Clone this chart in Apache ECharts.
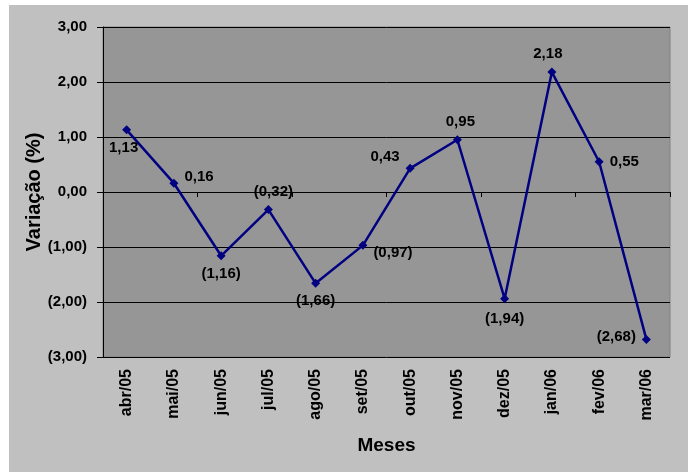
<!DOCTYPE html>
<html><head><meta charset="utf-8">
<script src="https://cdn.jsdelivr.net/npm/echarts@6/dist/echarts.min.js"></script>
<style>
html,body{margin:0;padding:0;background:#fff;}
#bg{position:absolute;left:9px;top:5px;width:679px;height:467px;background:#c0c0c0;}
#main{position:absolute;left:0;top:0;width:688px;height:472px;}
</style></head>
<body><div id="bg"></div><div id="main"></div>
<script>
const categories = ['abr/05','mai/05','jun/05','jul/05','ago/05','set/05','out/05','nov/05','dez/05','jan/06','fev/06','mar/06'];
const values = [1.13, 0.16, -1.16, -0.32, -1.66, -0.97, 0.43, 0.95, -1.94, 2.18, 0.55, -2.68];
const labelPositions = ['bottom','right','bottom','top','bottom','right','left','top','bottom','top','right','left'];
const labelOffsets = [[-3,0],[0,-6],[0,0],[5,0],[0,0],[0,8],[0,-11],[3,0],[0,2],[-4,0],[0,0],[0,-3]];

function fmt(v){
  const s = Math.abs(v).toFixed(2).replace('.', ',');
  return v < 0 ? '(' + s + ')' : s;
}
const font = 'Liberation Sans, Arial, sans-serif';
const chart = echarts.init(document.getElementById('main'));
chart.setOption({
  animation:false,
  backgroundColor:'transparent',
  textStyle:{fontFamily:font},
  grid:{left:103, top:27, right:18, bottom:115, show:true, backgroundColor:'#969696', borderColor:'#808080', borderWidth:1},
  xAxis:[{
    type:'category', data:categories, position:'bottom', boundaryGap:true,
    axisLine:{show:false, onZero:false}, axisTick:{show:false},
    axisLabel:{rotate:90, color:'#000', fontWeight:'bold', fontSize:16, fontFamily:font, margin:12},
    name:'Meses', nameLocation:'middle', nameGap:79, nameMoveOverlap:false,
    nameTextStyle:{color:'#000', fontWeight:'bold', fontSize:19, fontFamily:font}
  },{
    type:'category', data:categories, position:'bottom', boundaryGap:true,
    axisLine:{show:true, onZero:true, lineStyle:{color:'#000', width:1}},
    axisTick:{show:true, length:5, lineStyle:{color:'#000'}},
    axisLabel:{show:false}
  }],
  yAxis:{
    type:'value', min:-3, max:3, interval:1,
    axisLine:{show:true, lineStyle:{color:'#000'}},
    axisTick:{show:true, length:6, lineStyle:{color:'#000'}},
    splitLine:{show:true, lineStyle:{color:'#000', width:1}},
    axisLabel:{formatter:fmt, color:'#000', fontWeight:'bold', fontSize:15, fontFamily:font, margin:16},
    name:'Variação (%)', nameLocation:'middle', nameGap:59, nameRotate:90, nameMoveOverlap:false,
    nameTextStyle:{color:'#000', fontWeight:'bold', fontSize:20, fontFamily:font}
  },
  series:[{
    type:'line', xAxisIndex:0, data:values.map((v,i)=>({value:v, label:{position:labelPositions[i], offset:labelOffsets[i]}})),
    symbol:'diamond', symbolSize:9,
    lineStyle:{color:'#000080', width:2.5},
    itemStyle:{color:'#000080'},
    label:{show:true, formatter:p=>fmt(p.value), color:'#000', fontWeight:'bold', fontSize:15, fontFamily:font, distance:6}
  }]
});
</script></body></html>
